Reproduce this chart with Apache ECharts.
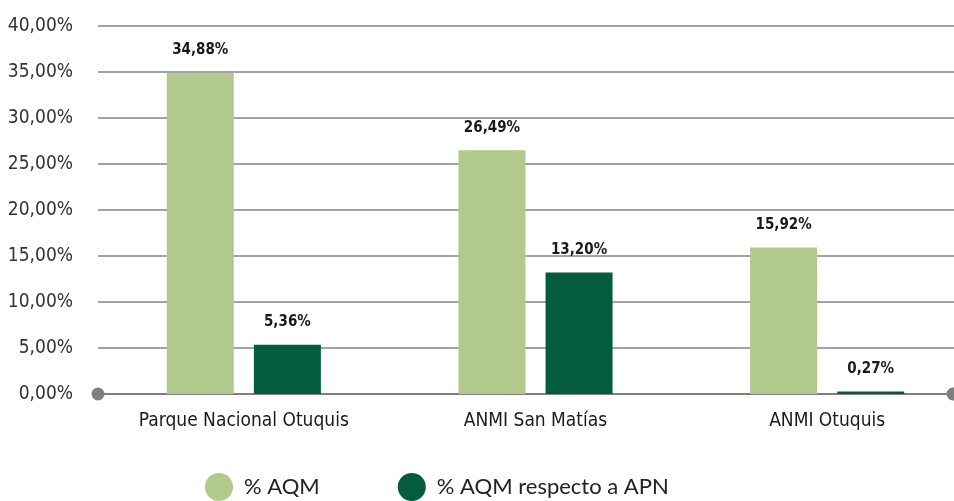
<!DOCTYPE html>
<html>
<head>
<meta charset="utf-8">
<script src="https://cdn.jsdelivr.net/npm/echarts@6/dist/echarts.min.js"></script>
<style>html,body{margin:0;padding:0;background:#fff;}#c{width:954px;height:501px;}</style>
</head>
<body>
<div id="c"></div>
<script>
const categories = ['Parque Nacional Otuquis', 'ANMI San Matías', 'ANMI Otuquis'];
const seriesNames = ['% AQM', '% AQM respecto a APN'];
const aqm = [34.88, 26.49, 15.92];
const aqmApn = [5.36, 13.20, 0.27];
const yTicks = { min: 0, max: 40, interval: 5 };

const narrow = '"Liberation Sans Narrow", "Arial Narrow", "DejaVu Sans Condensed", sans-serif';
const fmt = v => v.toFixed(2).replace('.', ',') + '%';

const chart = echarts.init(document.getElementById('c'), null, { renderer: 'canvas' });
const barLabel = {
  show: true, position: 'top', distance: 15,
  formatter: p => fmt(p.value),
  fontFamily: narrow, fontWeight: 'bold', fontSize: 15, color: '#1a1a1a'
};
chart.setOption({
  animation: false,
  grid: { left: 98, top: 26, right: -19, bottom: 107, containLabel: false, outerBoundsMode: 'none' },
  legend: {
    data: seriesNames, left: 200, top: 468, icon: 'circle',
    itemWidth: 28, itemHeight: 28, itemGap: 78,
    textStyle: { fontFamily: 'Lato, "Open Sans", sans-serif', fontSize: 22, color: '#222', padding: [0, 0, 0, 6] }
  },
  xAxis: {
    type: 'category', data: categories,
    axisLine: { show: true, symbol: ['circle', 'circle'], symbolSize: [13, 13], symbolOffset: [0, -20],
      lineStyle: { color: '#7f7f7f', width: 2 } },
    axisTick: { show: false },
    axisLabel: { interval: 0, fontFamily: narrow, fontSize: 19, color: '#1a1a1a', margin: 18 }
  },
  yAxis: {
    type: 'value', min: yTicks.min, max: yTicks.max, interval: yTicks.interval,
    axisLine: { show: false }, axisTick: { show: false },
    axisLabel: { formatter: fmt, fontFamily: narrow, fontSize: 19, color: '#333', margin: 25 },
    splitLine: { lineStyle: { color: '#858585', width: 1.5 } }
  },
  series: [
    { name: seriesNames[0], type: 'bar', data: aqm, barWidth: 67, barGap: '30%',
      itemStyle: { color: '#b2c98d' }, label: barLabel },
    { name: seriesNames[1], type: 'bar', data: aqmApn, barWidth: 67,
      itemStyle: { color: '#035c3b' }, label: barLabel }
  ]
});
</script>
</body>
</html>
